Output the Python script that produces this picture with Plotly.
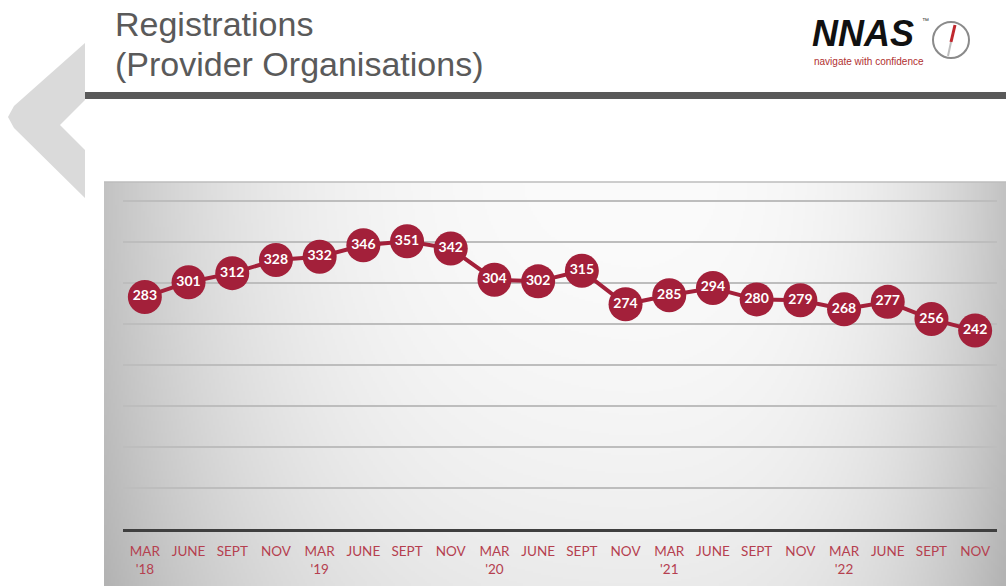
import base64, struct, zlib
import numpy as np
import plotly.graph_objects as go

# ---------------- data ----------------
months = ["MAR", "JUNE", "SEPT", "NOV"] * 5
years = ["'18", "'19", "'20", "'21", "'22"]
tick_labels = []
for i, m in enumerate(months):
    if i % 4 == 0:
        tick_labels.append(m + "<br>" + years[i // 4])
    else:
        tick_labels.append(m)
registrations = [283, 301, 312, 328, 332, 346, 351, 342, 304, 302, 315,
                 274, 285, 294, 280, 279, 268, 277, 256, 242]
x_idx = list(range(len(registrations)))

W, H = 1006, 586
RED = "#A3203A"


def px(x):
    return x / W


def py(y):
    return 1 - y / H


# --------- gradient background png ----------
def gradient_png(w, h):
    yy, xx = np.mgrid[0:h, 0:w].astype(float)
    bx = xx * 902.0 / (w - 1)   # box-relative pixels
    by = yy * 404.0 / (h - 1)
    cx = 536.0
    dx = np.where(bx < cx, (cx - bx) / 536.0, (bx - cx) / 366.0)
    dy = by / 404.0
    val = 251 - 50 * dx ** 3.2 - 16 * dy ** 1.8 - 6 * dx ** 1.5
    arr = np.clip(val, 0, 255).astype(np.uint8)
    raw = b"".join(b"\x00" + arr[i].tobytes() for i in range(h))

    def chunk(tag, data):
        c = struct.pack(">I", len(data)) + tag + data
        return c + struct.pack(">I", zlib.crc32(tag + data) & 0xffffffff)

    png = b"\x89PNG\r\n\x1a\n"
    png += chunk(b"IHDR", struct.pack(">IIBBBBB", w, h, 8, 0, 0, 0, 0))
    png += chunk(b"IDAT", zlib.compress(raw, 9))
    png += chunk(b"IEND", b"")
    return "data:image/png;base64," + base64.b64encode(png).decode()


bg_src = gradient_png(451, 202)

fig = go.Figure()
fig.add_trace(go.Scatter(
    x=x_idx, y=registrations,
    mode="lines+markers+text",
    line=dict(color=RED, width=4),
    marker=dict(size=34, color=RED),
    text=[str(v) for v in registrations],
    textposition="middle center",
    textfont=dict(family="Lato", size=14, color="white", weight="bold"),
    cliponaxis=False,
    hoverinfo="skip",
))

y_bottom_px, y_top_px = 529, 201  # pixel positions for 0 and 400
scale = (y_bottom_px - y_top_px) / 400.0
ymax = 420
dom_top_px = y_bottom_px - ymax * scale

fig.update_layout(
    width=W, height=H,
    margin=dict(l=0, r=0, t=0, b=0),
    paper_bgcolor="white",
    plot_bgcolor="rgba(0,0,0,0)",
    showlegend=False,
    xaxis=dict(
        domain=[px(123), px(997)],
        range=[-0.5, len(registrations) - 0.5],
        tickmode="array", tickvals=x_idx, ticktext=tick_labels,
        tickfont=dict(family="Lato", size=13.5, color="#B5404F"),
        showgrid=False, zeroline=False,
        showline=True, linecolor="#3f3f3f", linewidth=3,
        ticks="", ticklabelstandoff=8,
        fixedrange=True,
    ),
    yaxis=dict(
        domain=[py(y_bottom_px), py(dom_top_px)],
        range=[0, ymax],
        tickmode="linear", tick0=0, dtick=50,
        showticklabels=False, showgrid=True,
        gridcolor="#bdbdbd", gridwidth=1.6,
        zeroline=False, showline=False, ticks="",
        fixedrange=True,
    ),
)

fig.add_layout_image(dict(
    source=bg_src, xref="paper", yref="paper",
    x=px(104), y=py(182), sizex=px(1006) - px(104), sizey=py(182) - py(586),
    xanchor="left", yanchor="top", sizing="stretch", layer="below",
))

shapes = []
# top border of the chart box
shapes.append(dict(type="line", xref="paper", yref="paper",
                   x0=px(104), x1=px(1006), y0=py(182), y1=py(182),
                   line=dict(color="#bcbcbc", width=1.5)))
# chevron on the left
chev = [(85, 43), (14, 106), (8, 117), (14, 128), (85, 198), (85, 150), (60, 125), (85, 100)]
path = "M " + " L ".join(f"{px(a):.5f},{py(b):.5f}" for a, b in chev) + " Z"
shapes.append(dict(type="path", xref="paper", yref="paper", path=path,
                   fillcolor="#dadada", line=dict(width=0), layer="below"))
# header bar
shapes.append(dict(type="rect", xref="paper", yref="paper",
                   x0=px(85), x1=px(1006), y0=py(99), y1=py(92),
                   fillcolor="#595959", line=dict(width=0)))
# compass
shapes.append(dict(type="circle", xref="paper", yref="paper",
                   x0=px(933), x1=px(969), y0=py(58), y1=py(22),
                   line=dict(color="#8a8a8a", width=2), fillcolor="white"))
shapes.append(dict(type="line", xref="paper", yref="paper",
                   x0=px(955), y0=py(25), x1=px(951), y1=py(42),
                   line=dict(color="#c0282e", width=3)))
shapes.append(dict(type="line", xref="paper", yref="paper",
                   x0=px(951), y0=py(42), x1=px(948), y1=py(56),
                   line=dict(color="#bdbdbd", width=2)))
fig.update_layout(shapes=shapes)

ann = []
ann.append(dict(text="Registrations", x=px(113), y=py(24), xref="paper", yref="paper",
                xanchor="left", yanchor="middle", showarrow=False,
                font=dict(family="Liberation Sans", size=34, color="#5a5a5a")))
ann.append(dict(text="(Provider Organisations)", x=px(113), y=py(64), xref="paper", yref="paper",
                xanchor="left", yanchor="middle", showarrow=False,
                font=dict(family="Liberation Sans", size=34, color="#5a5a5a")))
ann.append(dict(text="<b><i>NNAS</i></b>", x=px(810), y=py(34), xref="paper", yref="paper",
                xanchor="left", yanchor="middle", showarrow=False,
                font=dict(family="Liberation Sans", size=36, color="#111111")))
ann.append(dict(text="™", x=px(920), y=py(21), xref="paper", yref="paper",
                xanchor="left", yanchor="middle", showarrow=False,
                font=dict(family="Liberation Sans", size=7, color="#333333")))
ann.append(dict(text="navigate with confidence", x=px(812), y=py(61), xref="paper", yref="paper",
                xanchor="left", yanchor="middle", showarrow=False,
                font=dict(family="Liberation Sans", size=10, color="#b03030")))
fig.update_layout(annotations=ann)

fig.write_html("out.html", config={"displayModeBar": False},
               post_script="document.body.style.margin='0';document.body.style.overflow='hidden';")
